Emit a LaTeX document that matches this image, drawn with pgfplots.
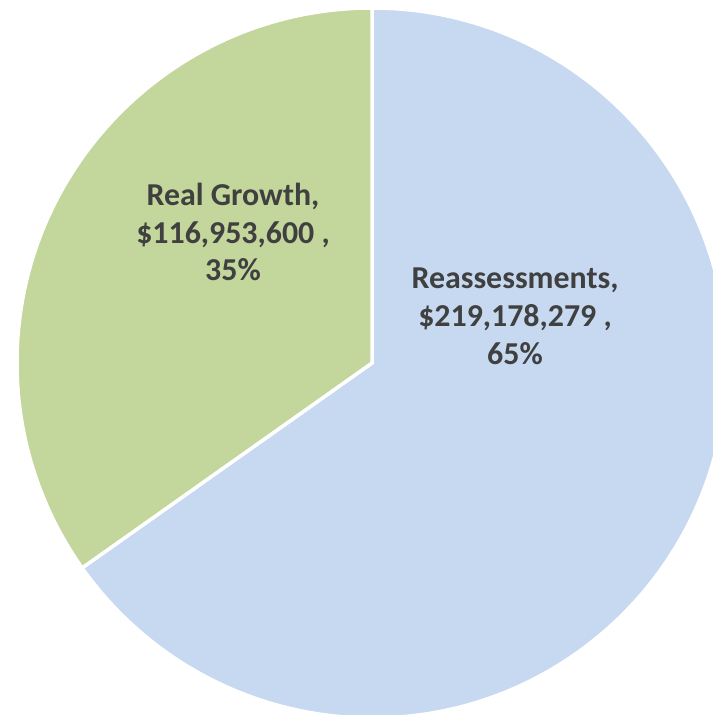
\documentclass[border=0pt]{standalone}
\usepackage{pgfplots}
\pgfplotsset{compat=1.18}
\usepackage{fontspec}
\setmainfont{Carlito}

\definecolor{growth}{HTML}{C3D69B}
\definecolor{reass}{HTML}{C6D9F1}
\definecolor{labeltext}{HTML}{404040}

% slice values (dollars)
\def\vGrowth{116953600}
\def\vReass{219178279}
\edef\angGrowth{\fpeval{360*\vGrowth/(\vGrowth+\vReass)}}
\def\rad{355}

\begin{document}
\begin{tikzpicture}
\begin{axis}[
    width=713bp, height=715bp,
    scale only axis,
    hide axis,
    clip=true,
    xmin=-372, xmax=341,
    ymin=-352, ymax=363,
  ]
  \path (rel axis cs:0,0) rectangle (rel axis cs:1,1);
  % Reassessments (clockwise from the top)
  \fill[reass, draw=white, line width=3.5bp]
    (axis cs:0,0) -- (axis cs:0,\rad)
    arc[start angle=90, delta angle=-(360-\angGrowth), radius=\rad] -- cycle;
  % Real Growth (counter-clockwise from the top)
  \fill[growth, draw=white, line width=3.5bp]
    (axis cs:0,0) -- (axis cs:0,\rad)
    arc[start angle=90, delta angle=\angGrowth, radius=\rad] -- cycle;

  \node[align=center, text=labeltext,
        font=\fontsize{32}{38}\selectfont\bfseries]
    at (axis cs:-139,131) {Real Growth,\\\$116,953,600 ,\\35\%};
  \node[align=center, text=labeltext,
        font=\fontsize{32}{38}\selectfont\bfseries]
    at (axis cs:143,47) {Reassessments,\\\$219,178,279 ,\\65\%};
\end{axis}
\end{tikzpicture}
\end{document}
